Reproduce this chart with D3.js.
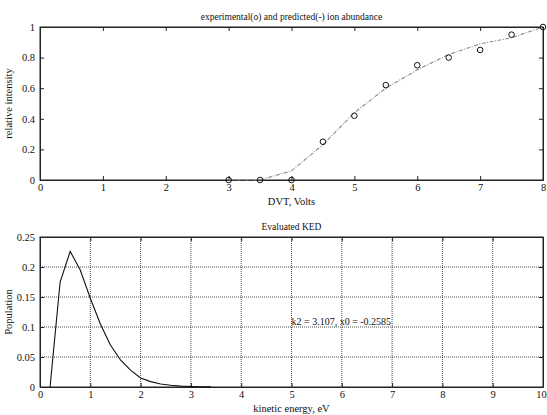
<!DOCTYPE html>
<html>
<head>
<meta charset="utf-8">
<script src="https://cdn.jsdelivr.net/npm/d3@7"></script>
<style>
  body { margin: 0; background: #fff; }
  text { font-family: "Liberation Serif", "DejaVu Serif", serif; fill: #111; }
</style>
</head>
<body>
<svg id="chart" width="547" height="415"></svg>
<script>
// top panel: ion abundance vs DVT
const dvt = [3, 3.5, 4, 4.5, 5, 5.5, 6, 6.5, 7, 7.5, 8];
const experimental = [0, 0, 0, 0.25, 0.42, 0.62, 0.75, 0.80, 0.85, 0.95, 1.0];
const predicted = [0, 0, 0.06, 0.23, 0.44, 0.60, 0.72, 0.82, 0.89, 0.93, 1.0];
const topXTicks = [0, 1, 2, 3, 4, 5, 6, 7, 8];
const topYTicks = [0, 0.2, 0.4, 0.6, 0.8, 1];

// bottom panel: evaluated KED
const energy = [0.2, 0.4, 0.6, 0.8, 1.0, 1.2, 1.4, 1.6, 1.8, 2.0, 2.2, 2.4, 2.6, 2.8, 3.0, 3.2, 3.4];
const population = [0, 0.175, 0.226, 0.195, 0.148, 0.105, 0.07, 0.045, 0.028, 0.015, 0.009, 0.005, 0.003, 0.0015, 0.0008, 0.0004, 0.0002];
const botXTicks = [0, 1, 2, 3, 4, 5, 6, 7, 8, 9, 10];
const botYTicks = [0, 0.05, 0.1, 0.15, 0.2, 0.25];
const fitLabel = "k2 = 3.107, x0 = -0.2585";

const svg = d3.select("#chart");
const left = 40, right = 543;

function panel(top, bottom, xDom, yDom, xTicks, yTicks, title, xLabel, yLabel, grid) {
    const x = d3.scaleLinear().domain(xDom).range([left, right]);
    const y = d3.scaleLinear().domain(yDom).range([bottom, top]);
    const g = svg.append("g");

    if (grid) {
        g.selectAll("line.vgrid").data(xTicks.slice(1, -1)).enter().append("line")
            .attr("x1", d => x(d)).attr("x2", d => x(d))
            .attr("y1", top).attr("y2", bottom)
            .attr("stroke", "#222").attr("stroke-width", 0.8)
            .attr("stroke-dasharray", "1,1");
        g.selectAll("line.hgrid").data(yTicks.slice(1, -1)).enter().append("line")
            .attr("x1", left).attr("x2", right)
            .attr("y1", d => y(d)).attr("y2", d => y(d))
            .attr("stroke", "#222").attr("stroke-width", 0.8)
            .attr("stroke-dasharray", "1,1");
    }

    const fmt = d => String(d);
    const bx = g.append("g").attr("transform", `translate(0,${bottom})`)
        .call(d3.axisBottom(x).tickValues(xTicks).tickSizeInner(-4).tickSizeOuter(0).tickPadding(4).tickFormat(fmt));
    bx.selectAll(".tick text").filter(d => d === xDom[1] && d >= 10).attr("dx", -2);
    g.append("g").attr("transform", `translate(0,${top})`)
        .call(d3.axisTop(x).tickValues(xTicks).tickSizeInner(-4).tickSizeOuter(0).tickFormat(""));
    g.append("g").attr("transform", `translate(${left},0)`)
        .call(d3.axisLeft(y).tickValues(yTicks).tickSizeInner(-4).tickSizeOuter(0).tickPadding(5).tickFormat(fmt));
    g.append("g").attr("transform", `translate(${right},0)`)
        .call(d3.axisRight(y).tickValues(yTicks).tickSizeInner(-4).tickSizeOuter(0).tickFormat(""));
    g.selectAll(".domain").attr("stroke", "#222");
    g.selectAll(".tick line").attr("stroke", "#222");
    g.selectAll(".tick text").style("font-size", "10.5px")
        .style("font-family", "'Liberation Serif', serif").attr("fill", "#111");

    g.append("rect").attr("x", left).attr("y", top)
        .attr("width", right - left).attr("height", bottom - top)
        .attr("fill", "none").attr("stroke", "#222").attr("stroke-width", 1);

    g.append("text").attr("x", (left + right) / 2).attr("y", top - 7)
        .attr("text-anchor", "middle").style("font-size", "9.5px").text(title);
    g.append("text").attr("x", (left + right) / 2).attr("y", bottom + 25)
        .attr("text-anchor", "middle").style("font-size", "10.5px").text(xLabel);
    g.append("text")
        .attr("transform", `translate(12,${(top + bottom) / 2}) rotate(-90)`)
        .attr("text-anchor", "middle").style("font-size", "10.5px").text(yLabel);

    return { x, y, g };
}

// top panel
const p1 = panel(27, 180, [0, 8], [0, 1], topXTicks, topYTicks,
    "experimental(o) and predicted(-) ion abundance", "DVT, Volts", "relative intensity", false);

p1.g.append("path")
    .datum(dvt.map((d, i) => [d, predicted[i]]))
    .attr("fill", "none").attr("stroke", "#8a8a8a").attr("stroke-width", 1.1)
    .attr("stroke-dasharray", "4,1.5,1,1.5")
    .attr("d", d3.line().x(d => p1.x(d[0])).y(d => p1.y(d[1])));

p1.g.selectAll("circle.exp").data(dvt.map((d, i) => [d, experimental[i]])).enter()
    .append("circle")
    .attr("cx", d => p1.x(d[0])).attr("cy", d => p1.y(d[1])).attr("r", 2.8)
    .attr("fill", "none").attr("stroke", "#111").attr("stroke-width", 1);

// bottom panel
const p2 = panel(237, 387, [0, 10], [0, 0.25], botXTicks, botYTicks,
    "Evaluated KED", "kinetic energy, eV", "Population", true);

p2.g.append("path")
    .datum(energy.map((d, i) => [d, population[i]]))
    .attr("fill", "none").attr("stroke", "#111").attr("stroke-width", 1.1)
    .attr("d", d3.line().x(d => p2.x(d[0])).y(d => p2.y(d[1])));

p2.g.append("text")
    .attr("x", p2.x(5)).attr("y", p2.y(0.1) - 2)
    .style("font-size", "10px").text(fitLabel);
</script>
</body>
</html>
